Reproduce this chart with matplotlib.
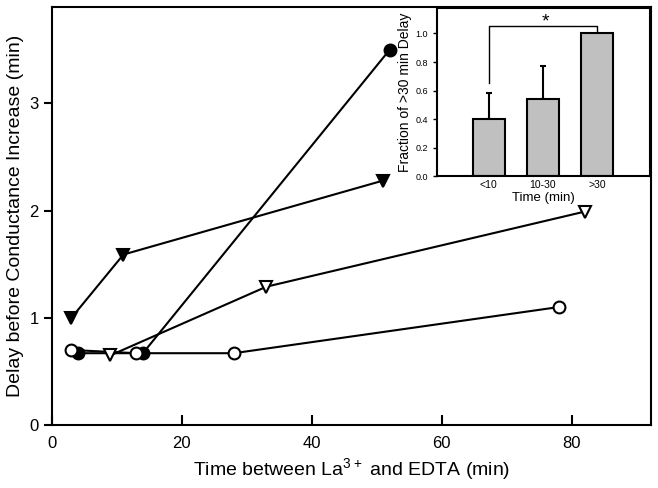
import matplotlib
matplotlib.use('Agg')
import matplotlib.pyplot as plt
import numpy as np

plt.rcParams['font.family'] = ['Liberation Sans', 'DejaVu Sans']
plt.rcParams['mathtext.fontset'] = 'custom'
plt.rcParams['mathtext.rm'] = 'Liberation Sans'

# main plot series (x = time between La and EDTA, y = delay)
filled_circ_x = [4, 14, 52]
filled_circ_y = [0.67, 0.67, 3.5]
open_circ_x = [3, 13, 28, 78]
open_circ_y = [0.70, 0.67, 0.67, 1.10]
open_tri_x = [9, 33, 82]
open_tri_y = [0.65, 1.29, 1.99]
filled_tri_x = [3, 11, 51]
filled_tri_y = [1.0, 1.59, 2.28]

# inset bar data
inset_cats = ['<10', '10-30', '>30']
inset_vals = [0.40, 0.54, 1.0]
inset_err = [0.185, 0.23, 0.0]

fig = plt.figure(figsize=(6.58, 4.88), dpi=100)
ax = fig.add_axes([0.079, 0.129, 0.910, 0.857])

lw = 1.5
ms = 8.5
ax.plot(filled_circ_x, filled_circ_y, '-o', color='black', lw=lw, ms=ms,
        mfc='black', mec='black', mew=1.5, zorder=3)
ax.plot(open_circ_x, open_circ_y, '-o', color='black', lw=lw, ms=ms,
        mfc='white', mec='black', mew=1.5, zorder=3)
ax.plot(open_tri_x, open_tri_y, '-v', color='black', lw=lw, ms=ms,
        mfc='white', mec='black', mew=1.5, zorder=3)
ax.plot(filled_tri_x, filled_tri_y, '-v', color='black', lw=lw, ms=ms,
        mfc='black', mec='black', mew=1.5, zorder=3)

ax.set_xlim(0, 92.2)
ax.set_ylim(0, 3.9)
ax.set_xticks([0, 20, 40, 60, 80])
ax.set_yticks([0, 1, 2, 3])
ax.tick_params(axis='x', direction='in', length=7, width=1.5, labelsize=12, pad=8)
ax.tick_params(axis='y', direction='out', length=6, width=1.5, labelsize=12)
for s in ax.spines.values():
    s.set_linewidth(1.5)
ax.set_xlabel('Time between La$^{\\mathrm{3+}}$ and EDTA (min)', fontsize=14)
ax.set_ylabel('Delay before Conductance Increase (min)', fontsize=14)

# inset
ins = fig.add_axes([0.664, 0.639, 0.324, 0.345])
pos = np.arange(1, 4)
ins.bar(pos, inset_vals, width=0.6, color='#c0c0c0', edgecolor='black', lw=1.5,
        zorder=2)
ins.errorbar(pos[:2], inset_vals[:2], yerr=[[0, 0], inset_err[:2]], fmt='none',
             ecolor='black', elinewidth=1.5, capsize=2.5, capthick=1.5, zorder=1)
# significance bracket
ins.plot([1, 1, 3, 3], [0.655, 1.056, 1.056, 1.014], color='black', lw=1)
ins.text(2.05, 1.02, '*', ha='center', va='bottom', fontsize=14)
ins.set_xlim(0.04, 3.98)
ins.set_ylim(0, 1.18)
ins.set_xticks(pos)
ins.set_xticklabels(inset_cats, fontsize=7.5)
ins.set_yticks([0, 0.2, 0.4, 0.6, 0.8, 1.0])
ins.set_yticklabels(['0.0', '0.2', '0.4', '0.6', '0.8', '1.0'], fontsize=6.5)
ins.tick_params(axis='x', length=0, pad=3)
ins.tick_params(axis='y', direction='out', length=3, width=1)
for s in ins.spines.values():
    s.set_linewidth(1.5)
ins.set_xlabel('Time (min)', fontsize=9.5, labelpad=1)
ins.set_ylabel('Fraction of >30 min Delay', fontsize=10, labelpad=2)

fig.savefig('out.png', dpi=100)
